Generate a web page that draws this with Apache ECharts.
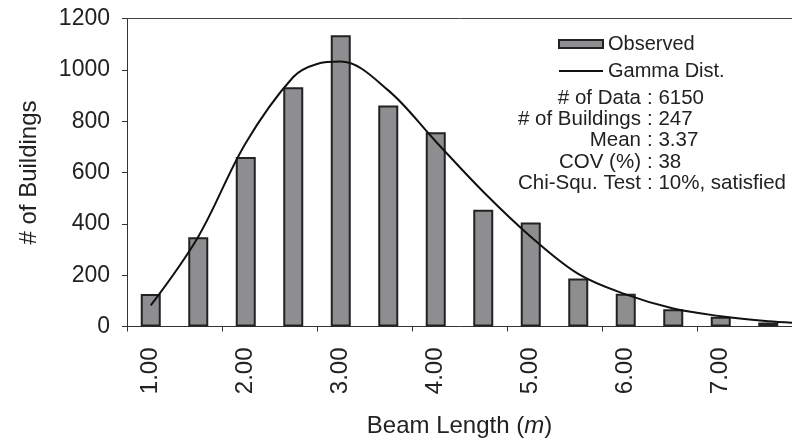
<!DOCTYPE html>
<html>
<head>
<meta charset="utf-8">
<script src="https://cdn.jsdelivr.net/npm/echarts@6/dist/echarts.min.js"></script>
<style>html,body{margin:0;padding:0;background:#fff}#c{width:792px;height:445px}</style>
</head>
<body>
<div id="c"></div>
<script>
// Bin categories (beam length, m)
var categories = ['1.00','1.50','2.00','2.50','3.00','3.50','4.00','4.50','5.00','5.50','6.00','6.50','7.00','7.50'];
// Observed counts
var observed = [127, 348, 660, 932, 1135, 861, 757, 455, 405, 187, 128, 67, 38, 16];
// Gamma distribution curve
var gammaX = [1.0, 1.5, 2.0, 2.5, 2.75, 3.0, 3.5, 4.0, 4.5, 5.0, 5.5, 6.0, 6.5, 7.0, 7.5, 7.75];
var gammaY = [82, 350, 715, 972, 1023, 1032, 920, 721, 525, 350, 205, 125, 70, 40, 20, 15];
// Y axis ticks
var yTicks = [0, 200, 400, 600, 800, 1000, 1200];
// Statistics box
var statLabels = ['# of Data', '# of Buildings', 'Mean', 'COV (%)', 'Chi-Squ. Test'];
var statValues = [': 6150', ': 247', ': 3.37', ': 38', ': 10%, satisfied'];

var FONT = '"Liberation Sans", Arial, sans-serif';
var chart = echarts.init(document.getElementById('c'), null, {renderer: 'canvas'});

var curveData = gammaX.map(function (x, i) { return [x, gammaY[i]]; });

var graphics = [];
statLabels.forEach(function (t, i) {
  var yc = 98.3 + i * 21.25;
  graphics.push({type: 'text', x: 641, y: yc,
    style: {text: t, x: 0, y: 0, align: 'right', verticalAlign: 'middle', font: '20.5px ' + FONT, fill: '#222'}});
  graphics.push({type: 'text', x: 647, y: yc,
    style: {text: statValues[i], x: 0, y: 0, align: 'left', verticalAlign: 'middle', font: '20.5px ' + FONT, fill: '#222'}});
});

chart.setOption({
  animation: false,
  textStyle: {fontFamily: FONT},
  grid: {left: 127, top: 18.5, width: 672, height: 308, containLabel: false},
  legend: {
    orient: 'vertical', left: 553, top: 29, itemWidth: 44, itemHeight: 8, itemGap: 7,
    symbolKeepAspect: true,
    textStyle: {fontSize: 20, color: '#222', fontFamily: FONT},
    data: [
      {name: 'Observed', icon: 'rect'},
      {name: 'Gamma Dist.', icon: 'path://M0,0 L44,0 L44,2 L0,2 Z', itemStyle: {color: '#111', borderWidth: 0}}
    ]
  },
  xAxis: [{
    type: 'category', data: categories, position: 'bottom',
    axisLine: {lineStyle: {color: '#333', width: 1}},
    axisTick: {show: true, length: 5, lineStyle: {color: '#333'}},
    axisLabel: {interval: 1, rotate: 90, margin: 21, fontSize: 24, color: '#222', fontFamily: FONT},
    name: 'Beam Length ({i|m})', nameLocation: 'middle', nameGap: 88,
    nameTextStyle: {fontSize: 24, color: '#222', fontFamily: FONT,
      rich: {i: {fontStyle: 'italic', fontSize: 24, color: '#222', fontFamily: FONT}}},
    splitLine: {show: false}
  }, {
    type: 'value', position: 'top', min: 0.75, max: 7.75,
    axisLine: {show: true, onZero: false, lineStyle: {color: '#444', width: 1}},
    axisTick: {show: false}, axisLabel: {show: false}, splitLine: {show: false}
  }],
  yAxis: {
    type: 'value', min: 0, max: 1200, interval: 200,
    axisLine: {show: true, lineStyle: {color: '#333', width: 1}},
    axisTick: {show: true, length: 5, lineStyle: {color: '#333'}},
    axisLabel: {fontSize: 23, color: '#222', margin: 17, fontFamily: FONT,
      customValues: yTicks, formatter: function (v) { return String(v); }},
    splitLine: {show: false},
    name: '# of Buildings', nameLocation: 'middle', nameGap: 86, nameRotate: 90,
    nameTextStyle: {fontSize: 24, color: '#222', fontFamily: FONT}
  },
  series: [{
    name: 'Observed', type: 'bar', data: observed, xAxisIndex: 0, barWidth: 20,
    itemStyle: {color: '#8e8e91', borderColor: '#222', borderWidth: 2}
  }, {
    name: 'Gamma Dist.', type: 'line', data: curveData, xAxisIndex: 1,
    smooth: 0.35, symbol: 'none', showSymbol: false,
    lineStyle: {color: '#111', width: 2}, itemStyle: {color: '#111'}, z: 5
  }],
  graphic: graphics
});
</script>
</body>
</html>
